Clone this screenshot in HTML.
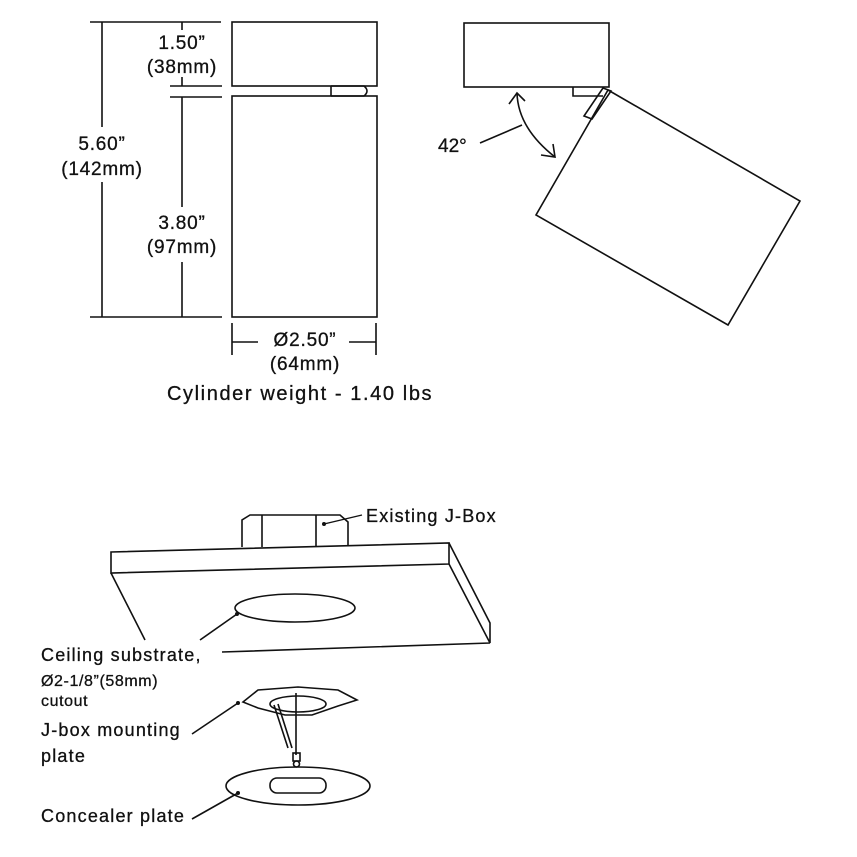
<!DOCTYPE html>
<html><head><meta charset="utf-8"><style>
html,body{margin:0;padding:0;background:#fff;}
svg{display:block;}
text{font-family:"Liberation Sans",sans-serif;fill:#111;stroke:#111;stroke-width:0.3;}
</style></head><body>
<svg width="857" height="857" viewBox="0 0 857 857" xmlns="http://www.w3.org/2000/svg">
<g stroke="#111" stroke-width="1.6" fill="none">
<rect x="232" y="22" width="145" height="64"/>
<rect x="232" y="96" width="145" height="221"/>
<path d="M331 86 V96 M331 86 H364 Q370 91 364 96 H331"/>
<path d="M90 22 H221 M90 317 H222 M102 22 V127 M102 182 V317"/>
<path d="M170 86 H222 M170 97 H222 M182 22 V30 M182 77 V86 M182 97 V207 M182 262 V317"/>
<path d="M232 323 V355 M376 323 V355 M232 342 H258 M349 342 H376"/>
<rect x="464" y="23" width="145" height="64"/>
<path d="M573 87 V96 H603"/>
<polygon points="608,90 800,201 728,325 536,215"/>
<polygon points="603,88 611,91 592,119 584,116"/>
<path d="M517 93 Q518 128 555 157"/>
<path d="M509 104 L517 93 L525 101 M541 155 L555 157 L553 144"/>
<path d="M480 143 L522 125"/>
<path d="M242 547 V520 L250 515 H340 L348 522 V545"/>
<path d="M262 515 V547 M316 515 V547"/>
<polygon points="111,552 449,543 449,564 111,573" fill="#fff"/>
<path d="M449,543 L490,623 V643 L449,564 M111,573 L145,640 M222,652 L490,643"/>
<ellipse cx="295" cy="608" rx="60" ry="14"/>
<path d="M237 614 L200 640"/>
<path d="M243 702 L258 690 L298 687 L338 690 L357 700 L338 706 L312 715 L285 715 L258 708 Z"/>
<ellipse cx="298" cy="704" rx="28" ry="8"/>
<path d="M274 705 L288 748 M278 704 L292 748 M296 693 V755"/>
<rect x="293" y="753" width="7" height="8"/>
<circle cx="296.5" cy="764" r="3"/>
<path d="M238 703 L192 734"/>
<ellipse cx="298" cy="786" rx="72" ry="19"/>
<rect x="270" y="778" width="56" height="15" rx="7"/>
<path d="M238 793 L192 819"/>
</g>
<g fill="#111">
<circle cx="237" cy="614" r="2"/><circle cx="238" cy="703" r="2"/><circle cx="238" cy="793" r="2"/>
<circle cx="324" cy="524" r="2"/>
</g>
<path d="M324 524 L362 515" stroke="#111" stroke-width="1.4"/>
<g font-size="19" text-anchor="middle" letter-spacing="0.8">
<text x="182" y="49">1.50”</text>
<text x="182" y="73">(38mm)</text>
<text x="102" y="150">5.60”</text>
<text x="102" y="175">(142mm)</text>
<text x="182" y="229">3.80”</text>
<text x="182" y="253">(97mm)</text>
<text x="305" y="346">Ø2.50”</text>
<text x="305" y="370">(64mm)</text>
</g>
<text x="167" y="400" font-size="20" letter-spacing="1.6">Cylinder weight - 1.40 lbs</text>
<text x="438" y="152" font-size="19">42°</text>
<g font-size="18" letter-spacing="1.2">
<text x="366" y="522">Existing J-Box</text>
<text x="41" y="661">Ceiling substrate,</text>
<text x="41" y="686" font-size="16" letter-spacing="0.6">Ø2-1/8”(58mm)</text>
<text x="41" y="706" font-size="16" letter-spacing="0.6">cutout</text>
<text x="41" y="736">J-box mounting</text>
<text x="41" y="762">plate</text>
<text x="41" y="822">Concealer plate</text>
</g>
</svg>
</body></html>
